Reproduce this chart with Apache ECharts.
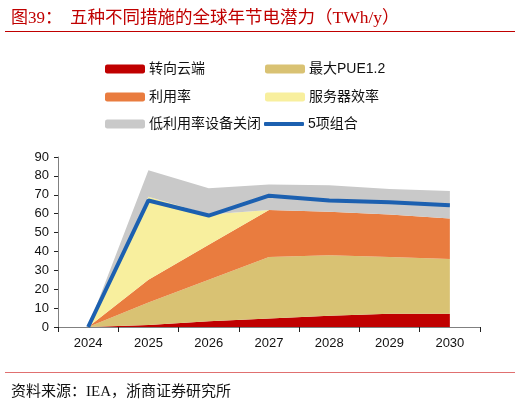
<!DOCTYPE html>
<html>
<head>
<meta charset="utf-8">
<script src="https://cdn.jsdelivr.net/npm/echarts@6/dist/echarts.min.js"></script>
<style>
  html, body { margin: 0; padding: 0; background: #fff; }
  #main { width: 520px; height: 401px; }
</style>
</head>
<body>
<div id="main"></div>
<script>
// 年份
var years = ['2024', '2025', '2026', '2027', '2028', '2029', '2030'];
// 各措施节电潜力 (TWh/y)，堆叠面积
var cloud = [0, 1, 3, 4.5, 6, 7, 7];          // 转向云端
var pue = [0, 12, 22, 32.5, 32, 30, 29];       // 最大PUE1.2
var util = [0, 12, 18.5, 25, 23, 22.5, 21.5];  // 利用率
var server = [0, 44, 16, 0, 0, 0, 0];          // 服务器效率
var idle = [0, 14, 14, 13.5, 14, 13.5, 14.5];  // 低利用率设备关闭
// 5项组合
var combo = [0, 67, 59, 69.5, 67, 66, 64.5];

var font = 'Liberation Sans, Noto Sans CJK SC, sans-serif';
var serif = 'Liberation Serif, Noto Sans CJK SC, serif';

window.onload = function () {
    var myChart = echarts.init(document.getElementById('main'));

    function area(name, data, color) {
        return {
            name: name,
            type: 'line',
            stack: 'total',
            data: data,
            symbol: 'none',
            lineStyle: { width: 0 },
            areaStyle: { color: color, opacity: 1 },
            itemStyle: { color: color },
            emphasis: { disabled: true }
        };
    }

    function legendAt(name, left, top, h) {
        return {
            data: [name],
            left: left,
            top: top,
            icon: 'roundRect',
            itemWidth: 40,
            itemHeight: h || 9,
            itemGap: 4,
            padding: 0,
            selectedMode: false,
            textStyle: { fontSize: 14, color: '#111', fontFamily: font, padding: [0, 0, 0, -1] }
        };
    }

    var option = {
        animation: false,
        title: [{
            text: '{a|图39：}{b|五种不同措施的全球年节电潜力（TWh/y）}',
            left: 6,
            top: 5,
            textStyle: {
                fontWeight: 'normal',
                rich: {
                    a: { fontSize: 17, fontWeight: 'normal', color: '#C00000', fontFamily: serif, padding: [0, 8, 0, 0] },
                    b: { fontSize: 17.5, fontWeight: 'normal', color: '#C00000', fontFamily: serif }
                }
            }
        }, {
            text: '资料来源：IEA，浙商证券研究所',
            left: 6,
            top: 380,
            textStyle: { fontSize: 15, fontWeight: 'normal', color: '#111', fontFamily: serif }
        }],
        graphic: [
            { type: 'line', shape: { x1: 5, y1: 31.5, x2: 515, y2: 31.5 }, style: { stroke: '#C00000', lineWidth: 1 } },
            { type: 'line', shape: { x1: 5, y1: 372.5, x2: 515, y2: 372.5 }, style: { stroke: '#E07070', lineWidth: 1 } }
        ],
        legend: [
            legendAt('转向云端', 105, 62),
            legendAt('最大PUE1.2', 265, 62),
            legendAt('利用率', 105, 90),
            legendAt('服务器效率', 265, 90),
            legendAt('低利用率设备关闭', 105, 117),
            legendAt('5项组合', 264, 117, 4)
        ],
        grid: { left: 58, right: 40, top: 157, bottom: 74 },
        xAxis: {
            type: 'category',
            data: years,
            boundaryGap: true,
            axisLine: { lineStyle: { color: '#808080', width: 1 } },
            axisTick: { show: true, length: 5, interval: 0, lineStyle: { color: '#222' } },
            axisLabel: { fontSize: 13, color: '#111', fontFamily: font, margin: 10 }
        },
        yAxis: {
            type: 'value',
            min: 0,
            max: 90,
            interval: 10,
            axisLine: { show: true, lineStyle: { color: '#808080', width: 1 } },
            axisTick: { show: true, length: 4, lineStyle: { color: '#222' } },
            splitLine: { show: false },
            axisLabel: { fontSize: 13, color: '#111', fontFamily: font, margin: 9 }
        },
        series: [
            area('转向云端', cloud, '#C00000'),
            area('最大PUE1.2', pue, '#D9C273'),
            area('利用率', util, '#E97C3F'),
            area('服务器效率', server, '#F8EF9E'),
            area('低利用率设备关闭', idle, '#C9C9C9'),
            {
                name: '5项组合',
                type: 'line',
                data: combo,
                symbol: 'none',
                lineStyle: { width: 4, color: '#1C60B0' },
                itemStyle: { color: '#1C60B0' },
                emphasis: { disabled: true },
                z: 5
            }
        ]
    };
    myChart.setOption(option);
};
</script>
</body>
</html>
